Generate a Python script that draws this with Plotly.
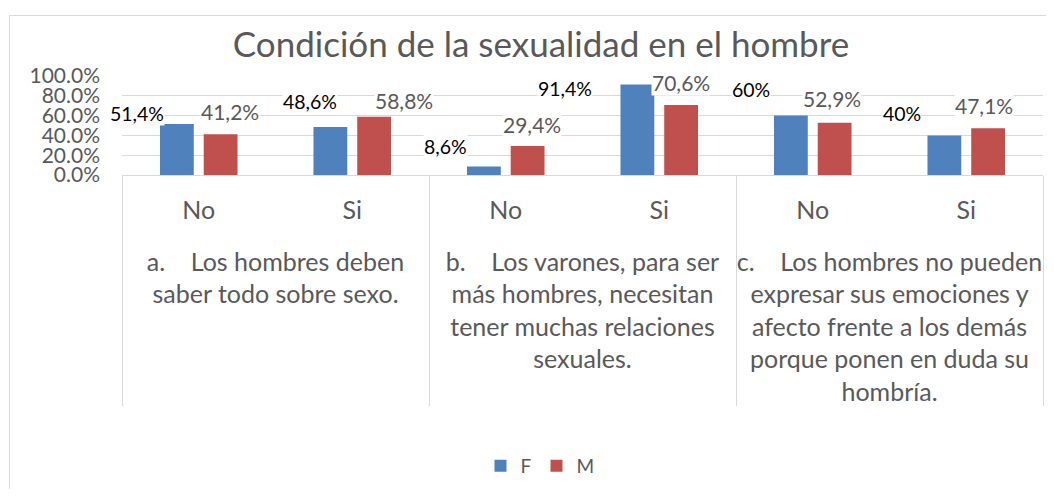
import plotly.graph_objects as go

# ---------------- data ----------------
groups = [
    "a.\u00a0\u00a0\u00a0 Los hombres deben<br>saber todo sobre sexo.",
    "b.\u00a0\u00a0\u00a0 Los varones, para ser<br>más hombres, necesitan<br>tener muchas relaciones<br>sexuales.",
    "c.\u00a0\u00a0\u00a0 Los hombres no pueden<br>expresar sus emociones y<br>afecto frente a los demás<br>porque ponen en duda su<br>hombría.",
]
answers = ["No", "Si"]
F_values = [51.4, 48.6, 8.6, 91.4, 60.0, 40.0]
M_values = [41.2, 58.8, 29.4, 70.6, 52.9, 47.1]
y_ticks = [0, 20, 40, 60, 80, 100]
series_names = ["F", "M"]

# ---------------- style ----------------
FONT = "Lato"
GRAY = "#595959"
LINE = "#D9D9D9"
colors = {"F": "#4F81BD", "M": "#C0504D"}
# label nudges in pixels (relative to category centre / bar top), as placed in the original
nudge = {
    "F": {"dx": [-62, -42, -60, -94, -62, -64], "dy": [11, 25, 20, -4, 26, 22],
          "color": "#000000", "size": 19.5},
    "M": {"dx": [31, 52, 26, 22, 19, 18], "dy": [23, 16, 21, 23, 24, 23],
          "color": GRAY, "size": 21},
}

x_groups = [g for g in groups for _ in answers]
# a blank second line under "No"/"Si" leaves the gap before the group captions
x_answers = [a + "<br>\u00a0" for _ in groups for a in answers]


def fmt(v):
    if float(v).is_integer():
        return f"{int(v)}%"
    return f"{v:.1f}".replace(".", ",") + "%"


fig = go.Figure()
for name, vals in zip(series_names, [F_values, M_values]):
    fig.add_trace(go.Bar(
        name=name, x=[x_groups, x_answers], y=vals,
        marker=dict(color=colors[name], line=dict(width=0)),
        hoverinfo="skip",
    ))

annotations = []
for name, vals in zip(series_names, [F_values, M_values]):
    n = nudge[name]
    for i, v in enumerate(vals):
        annotations.append(dict(
            x=i, y=v, xref="x", yref="y", text=fmt(v), showarrow=False,
            xshift=n["dx"][i], yshift=n["dy"][i],
            font=dict(family=FONT, size=n["size"], color=n["color"]),
            bgcolor="white", borderpad=0, xanchor="center", yanchor="middle",
        ))

# page body has an 8px margin: figure pixel = reference pixel - 8
OFF = 8
W, H = 1038, 481
L, R, T, B = 122 - OFF, W - (1043 - OFF), 76 - OFF, H - (175 - OFF)
pw, ph = W - L - R, H - T - B


def px_x(p):
    return (p - OFF - L) / pw


def px_y(p):
    return (H - B - (p - OFF)) / ph


fig.update_layout(
    width=W, height=H,
    margin=dict(l=L, r=R, t=T, b=B, autoexpand=False),
    paper_bgcolor="white", plot_bgcolor="white",
    font=dict(family=FONT, color=GRAY),
    title=dict(text="Condición de la sexualidad en el hombre",
               font=dict(family=FONT, size=35, color=GRAY),
               x=(541 - OFF) / W, xref="container", xanchor="center",
               y=1 - (45 - OFF) / H, yref="container", yanchor="middle"),
    barmode="group", bargap=0.43, bargroupgap=0.227,
    showlegend=True,
    legend=dict(orientation="h", x=(540 - OFF) / W, y=1 - (466 - OFF) / H,
                xref="container", yref="container",
                xanchor="center", yanchor="middle",
                font=dict(family=FONT, size=19, color=GRAY),
                itemwidth=30, traceorder="normal"),
    annotations=annotations,
    shapes=[dict(type="rect", xref="paper", yref="paper",
                 x0=px_x(9.5), x1=px_x(1080), y0=px_y(15.5), y1=px_y(540),
                 line=dict(color=LINE, width=1), fillcolor="rgba(0,0,0,0)",
                 layer="below")],
)

fig.update_yaxes(
    range=[0, 100], tickvals=y_ticks, ticktext=[f"{v:.1f}%" for v in y_ticks],
    showgrid=True, gridcolor=LINE, gridwidth=1, zeroline=False,
    showline=False, ticks="", ticklabelstandoff=21, automargin=False,
    tickfont=dict(family=FONT, size=21, color=GRAY),
)
fig.update_xaxes(
    type="multicategory", range=[-0.5, len(x_answers) - 0.5],
    showline=True, linecolor=LINE, linewidth=1,
    showdividers=True, dividercolor=LINE, dividerwidth=1,
    ticks="", showgrid=False, automargin=False, ticklabelstandoff=13,
    tickfont=dict(family=FONT, size=25, color=GRAY),
)

fig.write_html("out.html")
